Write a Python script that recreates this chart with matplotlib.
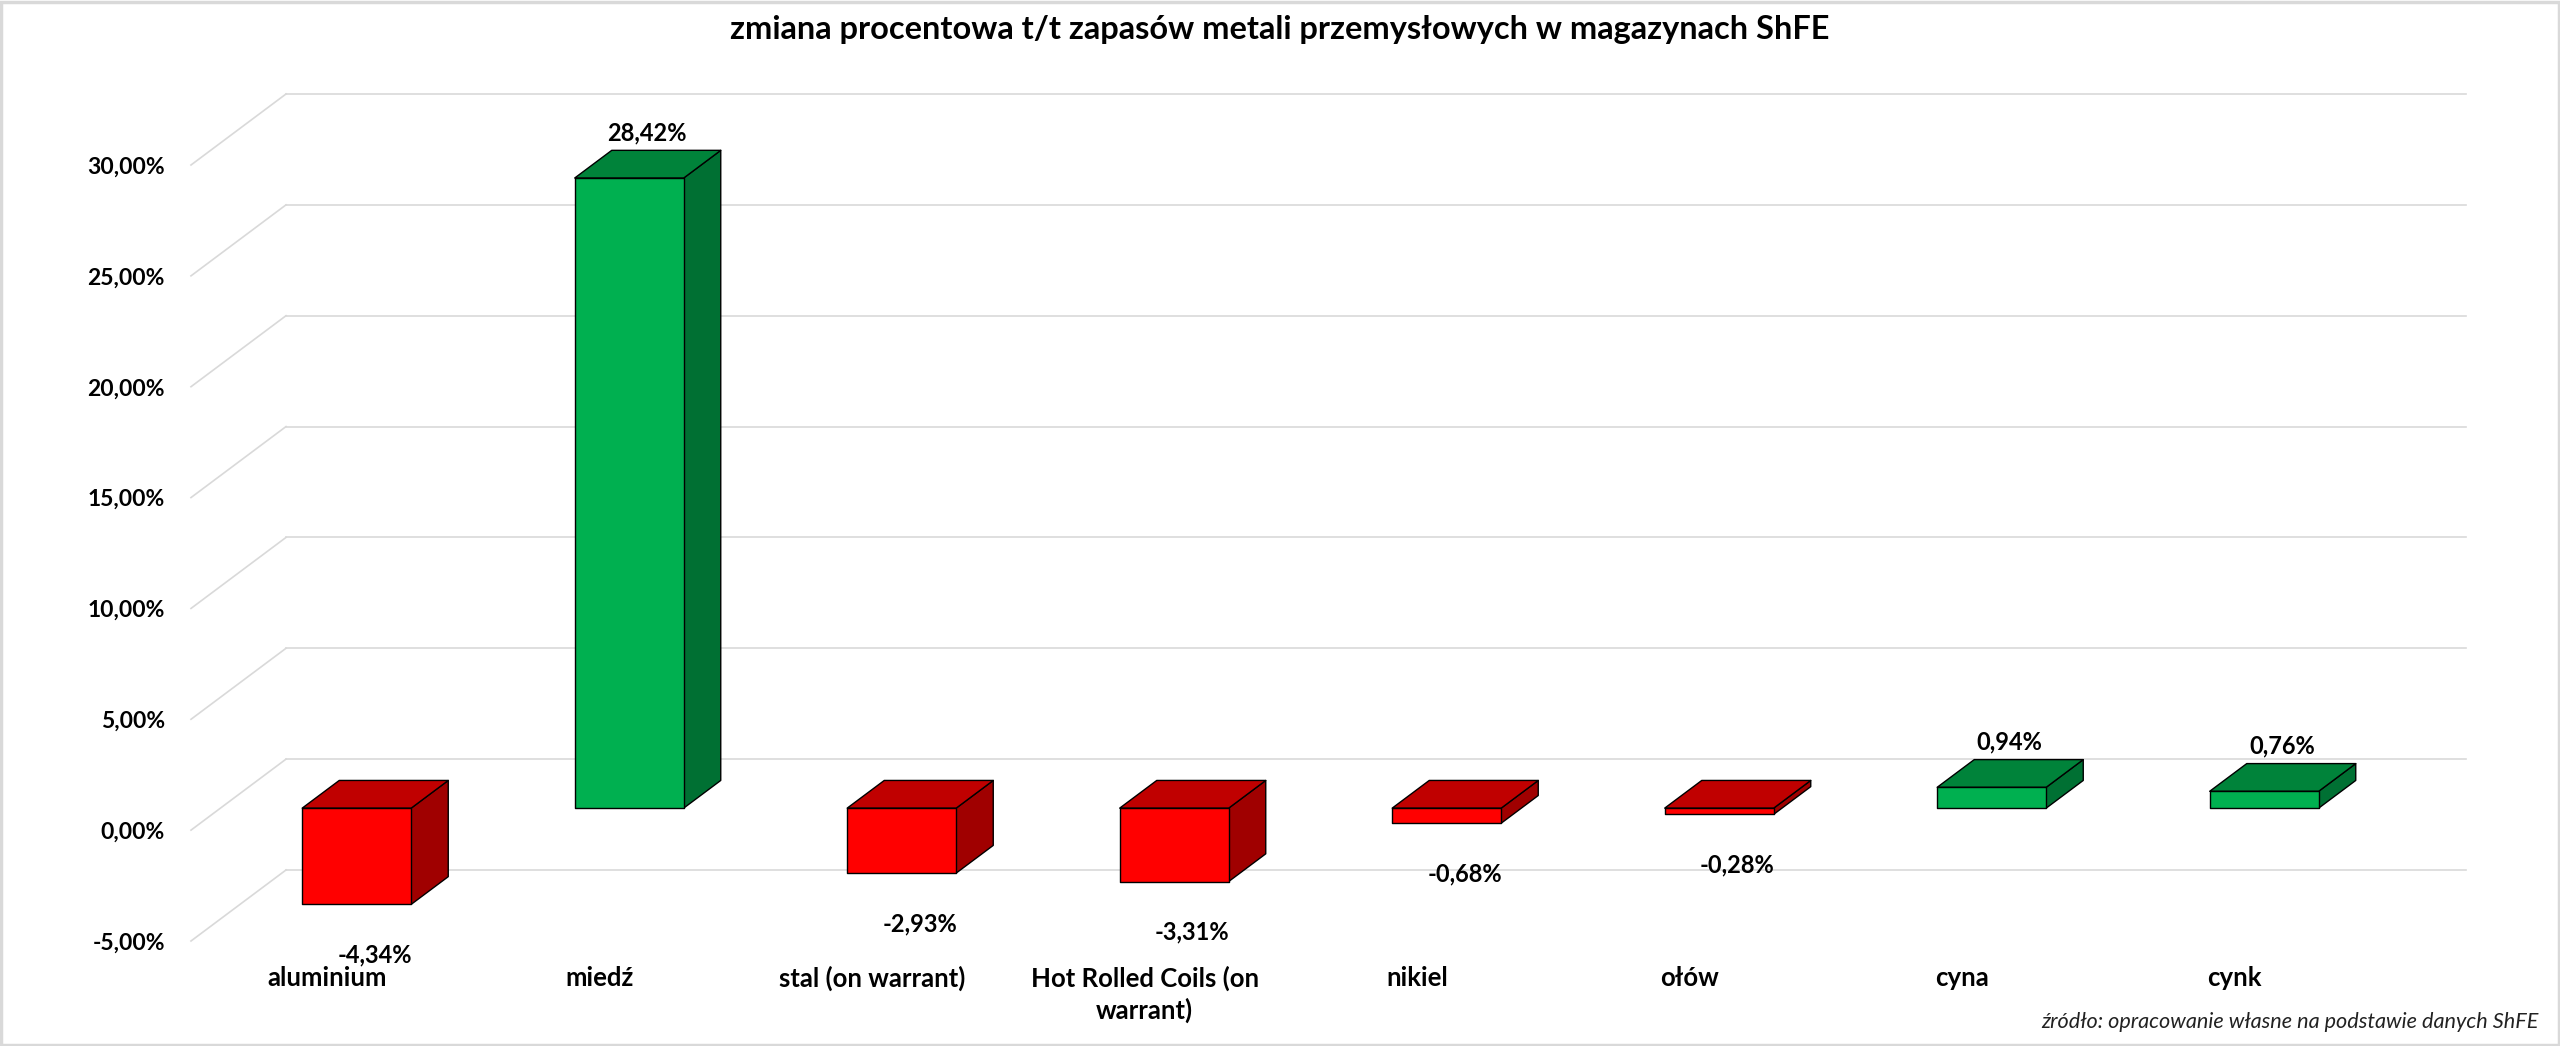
import numpy as np
import matplotlib.pyplot as plt
from matplotlib.patches import Polygon, Rectangle

plt.rcParams['font.family'] = ['Lato', 'DejaVu Sans']

# Data
categories = ["aluminium", "miedź", "stal (on warrant)", "Hot Rolled Coils (on\nwarrant)",
              "nikiel", "ołów", "cyna", "cynk"]
changes = [-4.34, 28.42, -2.93, -3.31, -0.68, -0.28, 0.94, 0.76]
yticks = [-5, 0, 5, 10, 15, 20, 25, 30]

title = "zmiana procentowa t/t zapasów metali przemysłowych w magazynach ShFE"
source = "źródło: opracowanie własne na podstawie danych ShFE"

# Colours (front, top, side)
red = ("#FF0000", "#C00000", "#A00000")
green = ("#00B050", "#00833A", "#007033")
grid_col = "#D9D9D9"

def pct(v):
    return f"{v:.2f}".replace(".", ",") + "%"

W, H = 2560, 1046
fig = plt.figure(figsize=(W / 100, H / 100), dpi=100)
fig.patch.set_facecolor("white")

# back wall of the 3D chart
ax = fig.add_axes([286 / W, 1 - 870 / H, 2180 / W, 776 / H])
ax.set_xlim(0, len(categories))
ax.set_ylim(-5, 30)
ax.axis("off")

# depth offset (front of floor relative to back wall), in pixels
DEPTH_PX = (-95, -71)
p0 = ax.transData.transform((0, 0))
p1 = ax.transData.transform((1, 1))
DDX = DEPTH_PX[0] / (p1[0] - p0[0])
DDY = DEPTH_PX[1] / (p1[1] - p0[1])

def proj(x, v, z):
    return (x + z * DDX, v + z * DDY)

# Gridlines: back wall + left wall diagonals
for t in yticks:
    ax.plot([0, len(categories)], [t, t], color=grid_col, lw=1.2, zorder=1, clip_on=False)
    a = proj(0, t, 0)
    b = proj(0, t, 1)
    ax.plot([a[0], b[0]], [a[1], b[1]], color=grid_col, lw=1.2, zorder=1, clip_on=False)
    ax.annotate(pct(t), xy=b, xytext=(-26, -2), textcoords="offset pixels",
                ha="right", va="center", fontsize=16.5, fontweight="bold",
                annotation_clip=False)

# Bars
z0, z1 = 0.30, 0.69
hw = 0.2
for i, v in enumerate(changes):
    x = i + 0.5
    xl, xr = x - hw, x + hw
    cols = green if v >= 0 else red
    top = max(v, 0)
    front = [proj(xl, 0, z1), proj(xr, 0, z1), proj(xr, v, z1), proj(xl, v, z1)]
    topf = [proj(xl, top, z1), proj(xr, top, z1), proj(xr, top, z0), proj(xl, top, z0)]
    side = [proj(xr, 0, z1), proj(xr, v, z1), proj(xr, v, z0), proj(xr, 0, z0)]
    for poly, c in ((side, cols[2]), (topf, cols[1]), (front, cols[0])):
        ax.add_patch(Polygon(poly, closed=True, facecolor=c, edgecolor="black",
                             lw=1.0, joinstyle="round", zorder=3, clip_on=False))
    anchor = proj(x, v, 0.5)
    off = 32 if v >= 0 else -64
    ax.annotate(pct(v), xy=anchor, xytext=(0, off), textcoords="offset pixels",
                ha="center", va="center", fontsize=17, fontweight="bold",
                annotation_clip=False, zorder=5)

# Category labels along the front edge
for i, name in enumerate(categories):
    pos = proj(i + 0.5, -5, 1)
    ax.annotate(name, xy=pos, xytext=(0, -25), textcoords="offset pixels",
                ha="center", va="top", fontsize=18.5, fontweight="bold",
                linespacing=1.3, annotation_clip=False)

fig.text(0.5, 1 - 30 / H, title, ha="center", va="center", fontsize=23.4, fontweight="bold")
fig.text(2539 / W, 1 - 1022 / H, source, ha="right", va="center", fontsize=15.6,
         style="italic", color="#222222")

fig.patches.append(Rectangle((0.0005, 0.001), 0.999, 0.997, transform=fig.transFigure,
                             fill=False, edgecolor=grid_col, lw=2.5))

fig.savefig("out.png", dpi=100)
